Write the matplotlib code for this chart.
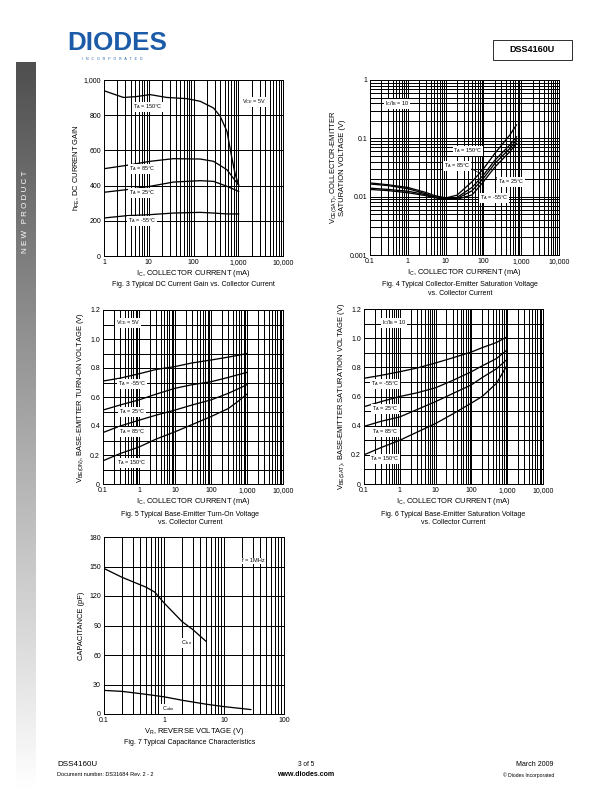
import numpy as np
import matplotlib
matplotlib.use("Agg")
import matplotlib.pyplot as plt
from matplotlib.ticker import FixedLocator, LogLocator, NullFormatter, FixedFormatter
from matplotlib.patches import Rectangle

plt.rcParams['font.family'] = ['Liberation Sans', 'DejaVu Sans']
plt.rcParams['mathtext.default'] = 'regular'

# Fig. 3  DC current gain
ic3_150 = [1, 2.7, 5, 10.7, 25, 71, 141, 280, 395, 560, 720, 860, 1020]
hfe_150 = [939, 901, 905, 917, 901, 894, 879, 841, 794, 708, 557, 462, 405]
ic3 = [1, 3.2, 10.7, 35.5, 141, 280, 560, 1020]
hfe_85 = [496, 515, 538, 553, 551, 538, 490, 402]
hfe_25 = [362, 377, 396, 420, 428, 424, 396, 367]
hfe_m55 = [216, 229, 235, 244, 248, 244, 239, 239]

# Fig. 4  VCE(sat)
ic4 = [0.1, 0.3, 1, 3, 5, 10, 20, 50, 100, 200, 500, 750]
vce_150 = [0.0172, 0.0160, 0.0144, 0.0118, 0.0105, 0.0095, 0.0106, 0.018, 0.030, 0.055, 0.114, 0.17]
vce_85 = [0.0165, 0.0155, 0.0137, 0.0112, 0.0100, 0.0093, 0.0097, 0.0144, 0.0234, 0.042, 0.077, 0.106]
vce_25 = [0.0140, 0.0133, 0.0124, 0.0108, 0.0098, 0.0092, 0.0093, 0.0126, 0.0206, 0.037, 0.067, 0.094]
vce_m55 = [0.0133, 0.0127, 0.0117, 0.0104, 0.0096, 0.0091, 0.0090, 0.0107, 0.018, 0.032, 0.059, 0.082]

# Fig. 5  VBE(on)
ic5 = [0.1, 0.3, 1, 3, 10, 30, 100, 300, 500, 1000]
vbe_m55 = [0.71, 0.73, 0.76, 0.79, 0.81, 0.835, 0.855, 0.875, 0.885, 0.90]
vbe_25 = [0.51, 0.545, 0.58, 0.62, 0.66, 0.685, 0.705, 0.735, 0.75, 0.77]
vbe_85 = [0.355, 0.40, 0.44, 0.475, 0.51, 0.545, 0.58, 0.625, 0.65, 0.685]
vbe_150 = [0.16, 0.21, 0.255, 0.31, 0.36, 0.41, 0.465, 0.52, 0.56, 0.62]

# Fig. 6  VBE(sat)
ic6 = [0.1, 0.3, 1, 3, 10, 30, 100, 200, 500, 1000]
vsat_m55 = [0.725, 0.745, 0.77, 0.795, 0.83, 0.865, 0.905, 0.935, 0.97, 1.01]
vsat_25 = [0.53, 0.565, 0.60, 0.625, 0.66, 0.71, 0.77, 0.81, 0.86, 0.92]
vsat_85 = [0.395, 0.43, 0.46, 0.51, 0.565, 0.62, 0.68, 0.73, 0.79, 0.855]
vsat_150 = [0.20, 0.25, 0.30, 0.355, 0.415, 0.48, 0.555, 0.60, 0.69, 0.815]

# Fig. 7  capacitance
vr_ibo = [0.1, 0.2, 0.5, 0.7, 1, 2, 3, 5]
c_ibo = [148, 139, 129, 124, 113, 94, 86, 74]
vr_obo = [0.1, 0.2, 0.5, 1, 2, 5, 10, 20, 28]
c_obo = [24, 23, 20, 17.5, 14, 10, 7.5, 5.5, 4.5]

W, H = 612, 792
fig = plt.figure(figsize=(W / 72, H / 72), dpi=72)


def box(l, t, r, b):
    return [l / W, 1 - b / H, (r - l) / W, (b - t) / H]


def ftext(x, y, s, **kw):
    kw.setdefault('fontsize', 6.5)
    kw.setdefault('ha', 'center')
    kw.setdefault('va', 'center')
    fig.text(x / W, 1 - y / H, s, **kw)


def tag(x, y, s):
    ftext(x, y, s, fontsize=5.5, bbox=dict(fc='white', ec='none', pad=0.6))


def setup(ax, xlim, xticks, xlabels, ylim, yticks, ylabels, logy=False, yminor=None):
    ax.set_xscale('log')
    ax.set_xlim(xlim)
    ax.xaxis.set_major_locator(FixedLocator(xticks))
    ax.xaxis.set_major_formatter(FixedFormatter(xlabels))
    ax.xaxis.set_minor_locator(LogLocator(base=10, subs=range(2, 10), numticks=20))
    ax.xaxis.set_minor_formatter(NullFormatter())
    if logy:
        ax.set_yscale('log')
        ax.yaxis.set_minor_locator(LogLocator(base=10, subs=range(2, 10), numticks=20))
        ax.yaxis.set_minor_formatter(NullFormatter())
    elif yminor is not None:
        ax.yaxis.set_minor_locator(FixedLocator(yminor))
    ax.set_ylim(ylim)
    ax.yaxis.set_major_locator(FixedLocator(yticks))
    ax.yaxis.set_major_formatter(FixedFormatter(ylabels))
    ax.grid(True, which='both', color='black', lw=1.0)
    ax.tick_params(which='both', length=0, labelsize=7, pad=3)
    for s in ax.spines.values():
        s.set_linewidth(1.0)
    ax.set_axisbelow(True)


cur_ticks = [0.1, 1, 10, 100, 1000, 10000]
cur_labels = ['0.1', '1', '10', '100', '1,000', '10,000']
lw = 1.3

# ---- Fig 3
ax3 = fig.add_axes(box(104, 80, 283, 256))
setup(ax3, (1, 10000), cur_ticks[1:], cur_labels[1:], (0, 1000),
      [0, 200, 400, 600, 800, 1000], ['0', '200', '400', '600', '800', '1,000'])
ax3.plot(ic3_150, hfe_150, 'k-', lw=lw)
ax3.plot(ic3, hfe_85, 'k-', lw=lw)
ax3.plot(ic3, hfe_25, 'k-', lw=lw)
ax3.plot(ic3, hfe_m55, 'k-', lw=lw)
ax3.set_xlabel('I$_C$, COLLECTOR CURRENT (mA)', fontsize=7.5, labelpad=2)
ax3.set_ylabel('h$_{FE}$, DC CURRENT GAIN', fontsize=7.5, labelpad=1)
tag(148, 107, 'T$_A$ = 150°C')
tag(254, 102, 'V$_{CE}$ = 5V')
tag(142, 169, 'T$_A$ = 85°C')
tag(142, 193, 'T$_A$ = 25°C')
tag(142, 221, 'T$_A$ = -55°C')
ftext(193, 284, 'Fig. 3 Typical DC Current Gain vs. Collector Current', fontsize=7)

# ---- Fig 4
ax4 = fig.add_axes(box(370, 80, 559, 255))
setup(ax4, (0.1, 10000), cur_ticks, cur_labels, (0.001, 1),
      [0.001, 0.01, 0.1, 1], ['0.001', '0.01', '0.1', '1'], logy=True)
ax4.plot(ic4, vce_150, 'k-', lw=lw)
ax4.plot(ic4, vce_85, 'k-', lw=lw)
ax4.plot(ic4, vce_25, 'k-', lw=lw)
ax4.plot(ic4, vce_m55, 'k-', lw=lw)
ax4.set_xlabel('I$_C$, COLLECTOR CURRENT (mA)', fontsize=7.5, labelpad=2)
ax4.set_ylabel('V$_{CE(SAT)}$, COLLECTOR-EMITTER\nSATURATION VOLTAGE (V)', fontsize=7.5,
               labelpad=3, linespacing=1.1)
tag(397, 104, 'I$_C$/I$_B$ = 10')
ax4.annotate('', xy=(100, vce_85[8]), xytext=(470 / W, 1 - 168 / H),
             textcoords='figure fraction', arrowprops=dict(arrowstyle='-', lw=0.7))
ax4.annotate('', xy=(200, vce_25[9] * 0.62), xytext=(500 / W, 1 - 182 / H),
             textcoords='figure fraction', arrowprops=dict(arrowstyle='-', lw=0.7))
tag(468, 151, 'T$_A$ = 150°C')
tag(457, 166, 'T$_A$ = 85°C')
tag(511, 182, 'T$_A$ = 25°C')
tag(494, 198, 'T$_A$ = -55°C')
ftext(460, 284, 'Fig. 4 Typical Collector-Emitter Saturation Voltage', fontsize=7)
ftext(460, 293, 'vs. Collector Current', fontsize=7)

# ---- Fig 5
vt = [0, 0.2, 0.4, 0.6, 0.8, 1.0, 1.2]
vl = ['0', '0.2', '0.4', '0.6', '0.8', '1.0', '1.2']
vminor = [0.1, 0.3, 0.5, 0.7, 0.9, 1.1]
ax5 = fig.add_axes(box(103, 310, 283, 484))
setup(ax5, (0.1, 10000), cur_ticks, cur_labels, (0, 1.2), vt, vl, yminor=vminor)
ax5.plot(ic5, vbe_m55, 'k-', lw=lw)
ax5.plot(ic5, vbe_25, 'k-', lw=lw)
ax5.plot(ic5, vbe_85, 'k-', lw=lw)
ax5.plot(ic5, vbe_150, 'k-', lw=lw)
ax5.set_xlabel('I$_C$, COLLECTOR CURRENT (mA)', fontsize=7.5, labelpad=2)
ax5.set_ylabel('V$_{BE(ON)}$, BASE-EMITTER TURN-ON VOLTAGE (V)', fontsize=7.5, labelpad=4)
tag(128, 323, 'V$_{CE}$ = 5V')
tag(132, 384, 'T$_A$ = -55°C')
tag(132, 412, 'T$_A$ = 25°C')
tag(132, 432, 'T$_A$ = 85°C')
tag(132, 463, 'T$_A$ = 150°C')
ftext(190, 514, 'Fig. 5 Typical Base-Emitter Turn-On Voltage', fontsize=7)
ftext(190, 523, 'vs. Collector Current', fontsize=7)

# ---- Fig 6
ax6 = fig.add_axes(box(364, 309, 543, 484))
setup(ax6, (0.1, 10000), cur_ticks, cur_labels, (0, 1.2), vt, vl, yminor=vminor)
ax6.plot(ic6, vsat_m55, 'k-', lw=lw)
ax6.plot(ic6, vsat_25, 'k-', lw=lw)
ax6.plot(ic6, vsat_85, 'k-', lw=lw)
ax6.plot(ic6, vsat_150, 'k-', lw=lw)
ax6.set_xlabel('I$_C$, COLLECTOR CURRENT (mA)', fontsize=7.5, labelpad=2)
ax6.set_ylabel('V$_{BE(SAT)}$, BASE-EMITTER SATURATION VOLTAGE (V)', fontsize=7.5, labelpad=4)
tag(394, 323, 'I$_C$/I$_B$ = 10')
tag(385, 384, 'T$_A$ = -55°C')
tag(385, 409, 'T$_A$ = 25°C')
tag(385, 432, 'T$_A$ = 85°C')
tag(385, 459, 'T$_A$ = 150°C')
ftext(453, 514, 'Fig. 6 Typical Base-Emitter Saturation Voltage', fontsize=7)
ftext(453, 523, 'vs. Collector Current', fontsize=7)

# ---- Fig 7
ax7 = fig.add_axes(box(104, 537, 284, 714))
setup(ax7, (0.1, 100), [0.1, 1, 10, 100], ['0.1', '1', '10', '100'], (0, 180),
      [0, 30, 60, 90, 120, 150, 180], ['0', '30', '60', '90', '120', '150', '180'])
ax7.plot(vr_ibo, c_ibo, 'k-', lw=lw)
ax7.plot(vr_obo, c_obo, 'k-', lw=lw)
ax7.set_xlabel('V$_R$, REVERSE VOLTAGE (V)', fontsize=7.5, labelpad=2)
ax7.set_ylabel('CAPACITANCE (pF)', fontsize=7.5, labelpad=4)
tag(253, 561, 'f = 1MHz')
tag(187, 643, 'C$_{ibo}$')
tag(168, 709, 'C$_{obo}$')
ftext(190, 743, 'Fig. 7 Typical Capacitance Characteristics', fontsize=7)

# ---- page furniture
bar = fig.add_axes(box(16, 62, 36, 792))
grad = np.linspace(0, 1, 256).reshape(-1, 1)
bar.imshow(grad, aspect='auto', cmap='gray', vmin=-0.45, vmax=1.0,
           extent=(0, 1, 1, 0))
bar.set_axis_off()
ftext(26, 212, 'N E W   P R O D U C T', fontsize=8, color='white', rotation=90)

ftext(117, 43, 'DIODES', fontsize=26, fontweight='bold', color='#1c5ba8')
fig.add_artist(Rectangle((62 / W, 1 - 45.5 / H), 112 / W, 1.2 / H, color='white',
                         transform=fig.transFigure))
ftext(112, 59, 'I   N   C   O   R   P   O   R   A   T   E   D', fontsize=3.5, color='#1c5ba8')
fig.add_artist(Rectangle((493 / W, 1 - 60 / H), 79 / W, 20 / H, fill=False, ec='black',
                         lw=0.8, transform=fig.transFigure))
ftext(532.5, 50, 'DSS4160U', fontsize=9, fontweight='bold')

ftext(57, 764, 'DSS4160U', fontsize=8, ha='left')
ftext(57, 775, 'Document number: DS31684 Rev. 2 - 2', fontsize=5.5, ha='left')
ftext(306, 764, '3 of 5', fontsize=6.5)
ftext(306, 775, 'www.diodes.com', fontsize=7, fontweight='bold')
ftext(554, 764, 'March 2009', fontsize=7, ha='right')
ftext(554, 775, '© Diodes Incorporated', fontsize=5, ha='right')

fig.savefig('out.png', dpi=72)
